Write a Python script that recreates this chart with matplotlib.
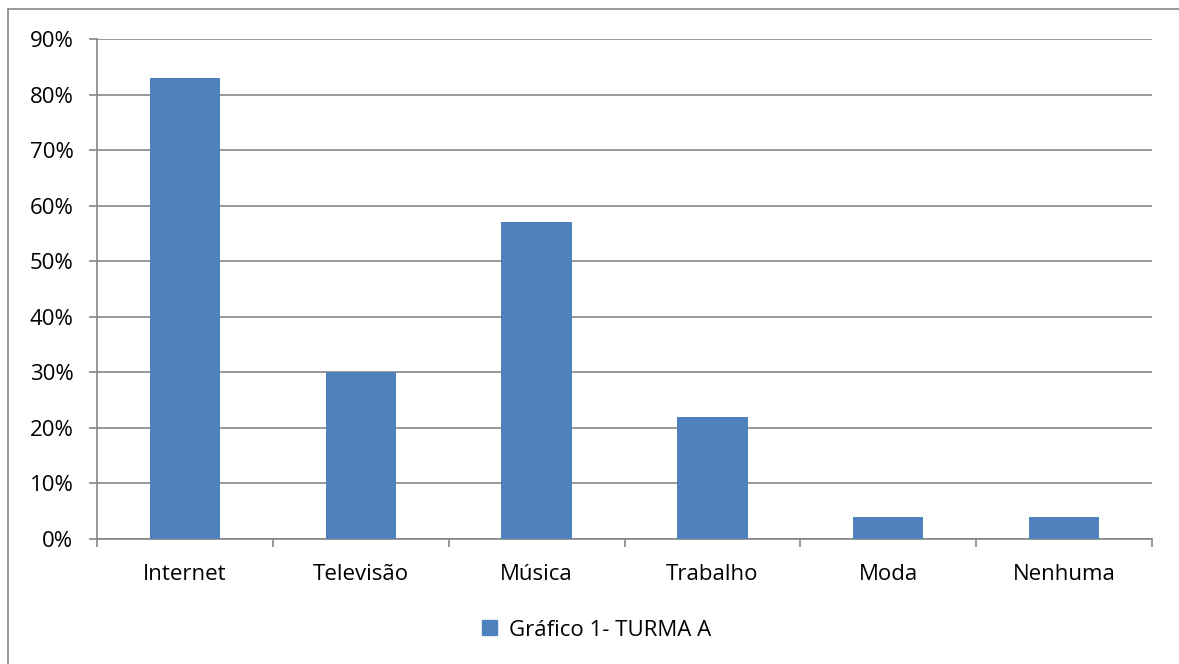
import matplotlib
matplotlib.use('Agg')
import matplotlib.pyplot as plt
from matplotlib.lines import Line2D
from matplotlib.patches import Patch
import numpy as np

categories = ['Internet', 'Televisão', 'Música', 'Trabalho', 'Moda', 'Nenhuma']
values = [83, 30, 57, 22, 4, 4]
series_name = 'Gráfico 1- TURMA A'
yticks = [0, 10, 20, 30, 40, 50, 60, 70, 80, 90]

plt.rcParams['font.family'] = ['Open Sans', 'DejaVu Sans']
grey = '#868686'
blue = '#4F81BD'

fig = plt.figure(figsize=(11.79, 6.64), dpi=100)
ax = fig.add_axes([0.0823, 0.1883, 0.8948, 0.753])

x = np.arange(len(categories))
ax.bar(x, values, width=0.4, color=blue, zorder=3)

ax.set_xlim(-0.5, len(categories) - 0.5)
ax.set_ylim(0, 90)
ax.set_yticks(yticks)
ax.set_yticklabels([f'{v}%' for v in yticks], fontsize=16)
ax.yaxis.grid(True, color=grey, linewidth=1.2, zorder=0)

ax.set_xticks(x)
ax.set_xticklabels(categories, fontsize=16)
ax.set_xticks(np.arange(len(categories) + 1) - 0.5, minor=True)
ax.tick_params(axis='x', which='major', length=0, pad=18)
ax.tick_params(axis='x', which='minor', length=6, color=grey, width=1.2)
ax.tick_params(axis='y', length=6, color=grey, width=1.2, pad=11)

for side in ['top', 'right']:
    ax.spines[side].set_visible(False)
for side in ['left', 'bottom']:
    ax.spines[side].set_color(grey)
    ax.spines[side].set_linewidth(1.2)

fig.legend(handles=[Patch(color=blue, label=series_name)], loc='center',
           bbox_to_anchor=(0.506, 0.051), frameon=False, fontsize=16,
           handlelength=0.65, handleheight=0.65, handletextpad=0.55)

# outer chart border (only left and top visible in the reference)
fig.add_artist(Line2D([0.0068, 0.0068], [0.0, 0.9864], color=grey, linewidth=1.2))
fig.add_artist(Line2D([0.0068, 1.0], [0.9864, 0.9864], color=grey, linewidth=1.2))

fig.savefig('out.png', dpi=100)
